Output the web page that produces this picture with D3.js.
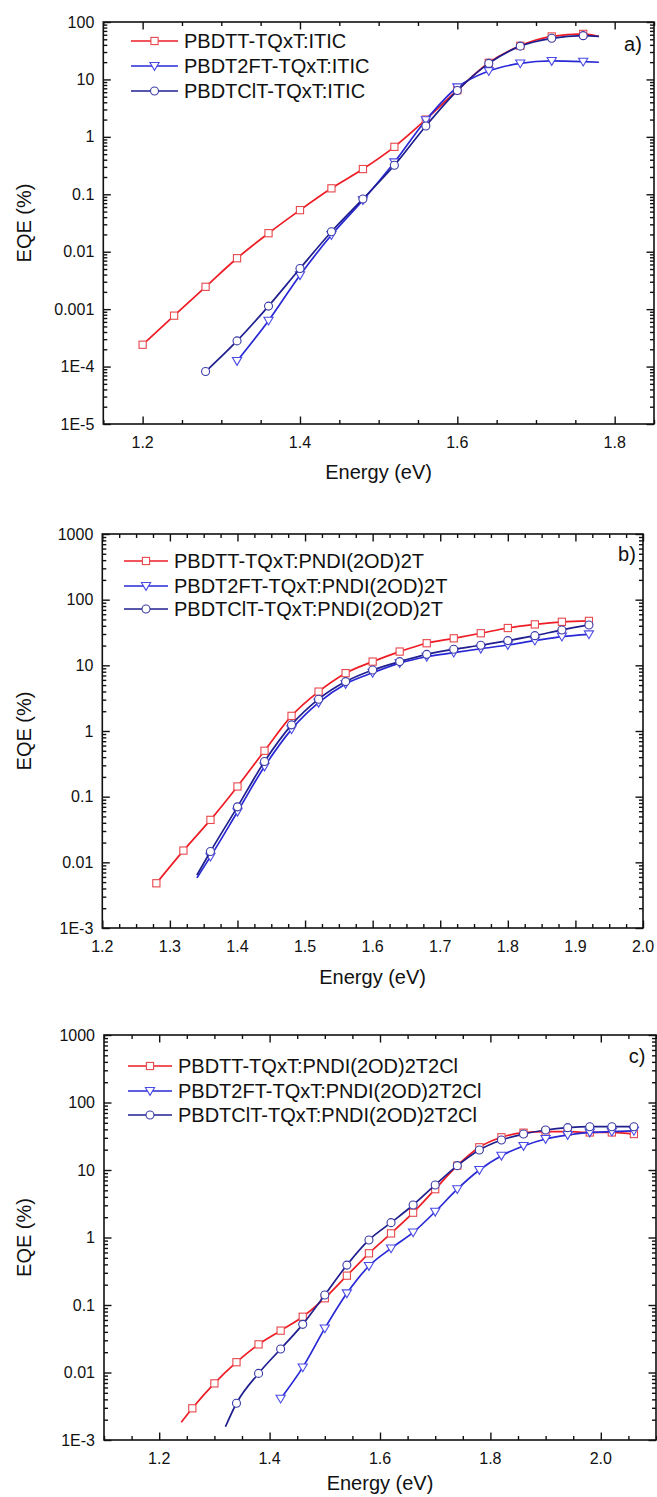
<!DOCTYPE html>
<html><head><meta charset="utf-8">
<script src="https://cdn.jsdelivr.net/npm/d3@7/dist/d3.min.js"></script>
<style>body{margin:0;background:#fff}svg{display:block}text{font-family:"Liberation Sans",Arial,sans-serif;fill:#111}</style>
</head><body><svg id="c" width="657" height="1497"></svg>
<script>
// ---------- DATA ----------
// Panel a (ITIC)
const aRedE  = [1.20,1.24,1.28,1.32,1.36,1.40,1.44,1.48,1.52,1.56,1.60,1.64,1.68,1.72,1.76];
const aRedV  = [2.4e-4,7.7e-4,2.45e-3,7.7e-3,0.021,0.053,0.127,0.275,0.67,2.0,6.5,19.5,38.5,56,62];
const aRedTail = [[1.78,56]];
const aBlueE = [1.32,1.36,1.40,1.44,1.48,1.52,1.56,1.60,1.64,1.68,1.72,1.76];
const aBlueV = [1.25e-4,6.3e-4,3.9e-3,0.0195,0.079,0.36,1.95,7.3,14,19,21,20.4];
const aBlueTail = [[1.78,19.9]];
const aNavyE = [1.28,1.32,1.36,1.40,1.44,1.48,1.52,1.56,1.60,1.64,1.68,1.72,1.76];
const aNavyV = [8.2e-5,2.8e-4,1.13e-3,5.1e-3,0.0223,0.083,0.32,1.55,6.4,19,38,52,57.8];
const aNavyTail = [[1.78,56]];
// Panel b (PNDI(2OD)2T)
const bRedE  = [1.28,1.32,1.36,1.40,1.44,1.48,1.52,1.56,1.60,1.64,1.68,1.72,1.76,1.80,1.84,1.88,1.92];
const bRedV  = [4.8e-3,0.0151,0.0443,0.143,0.5,1.7,3.98,7.6,11.4,16.2,21.7,25.8,30.8,37,42,46,47.5];
const bBlueE = [1.36,1.40,1.44,1.48,1.52,1.56,1.60,1.64,1.68,1.72,1.76,1.80,1.84,1.88,1.92];
const bBlueV = [0.0122,0.059,0.288,1.06,2.7,5.2,7.7,10.8,13.5,15.6,17.9,20.4,23.8,27.4,29.7];
const bBlueHead = [[1.34,5.8e-3]];
const bNavyE = [1.36,1.40,1.44,1.48,1.52,1.56,1.60,1.64,1.68,1.72,1.76,1.80,1.84,1.88,1.92];
const bNavyV = [0.0146,0.07,0.343,1.24,3.05,5.65,8.5,11.4,14.7,17.6,20.2,23.8,28.3,34.6,41.2];
const bNavyHead = [[1.34,6.4e-3]];
// Panel c (PNDI(2OD)2T2Cl)
const cRedE  = [1.26,1.30,1.34,1.38,1.42,1.46,1.50,1.54,1.58,1.62,1.66,1.70,1.74,1.78,1.82,1.86,1.90,1.94,1.98,2.02,2.06];
const cRedV  = [2.95e-3,6.9e-3,0.0142,0.0261,0.0417,0.067,0.126,0.272,0.583,1.15,2.33,5.2,11.6,21.7,30.5,35.7,37,37,36,36,34.1];
const cRedHead = [[1.24,1.83e-3]];
const cBlueE = [1.42,1.46,1.50,1.54,1.58,1.62,1.66,1.70,1.74,1.78,1.82,1.86,1.90,1.94,1.98,2.02,2.06];
const cBlueV = [4.1e-3,0.0119,0.045,0.149,0.378,0.69,1.19,2.41,5.2,10,16.3,22.7,28.8,33,36,37,38];
const cNavyE = [1.34,1.38,1.42,1.46,1.50,1.54,1.58,1.62,1.66,1.70,1.74,1.78,1.82,1.86,1.90,1.94,1.98,2.02,2.06];
const cNavyV = [3.5e-3,9.7e-3,0.0223,0.0517,0.141,0.39,0.92,1.66,3.03,6.0,11.6,19.8,27.8,34.1,39.1,42.4,43.8,43.8,43.8];
const cNavyHead = [[1.32,1.57e-3]];

const aNames = ["PBDTT-TQxT:ITIC","PBDT2FT-TQxT:ITIC","PBDTClT-TQxT:ITIC"];
const bNames = ["PBDTT-TQxT:PNDI(2OD)2T","PBDT2FT-TQxT:PNDI(2OD)2T","PBDTClT-TQxT:PNDI(2OD)2T"];
const cNames = ["PBDTT-TQxT:PNDI(2OD)2T2Cl","PBDT2FT-TQxT:PNDI(2OD)2T2Cl","PBDTClT-TQxT:PNDI(2OD)2T2Cl"];

const aXTicks = [1.2,1.4,1.6,1.8];
const aXLabels = ["1.2","1.4","1.6","1.8"];
const bXTicks = [1.2,1.3,1.4,1.5,1.6,1.7,1.8,1.9,2.0];
const bXLabels = ["1.2","1.3","1.4","1.5","1.6","1.7","1.8","1.9","2.0"];
const cXTicks = [1.2,1.4,1.6,1.8,2.0];
const cXLabels = ["1.2","1.4","1.6","1.8","2.0"];
const aYTicks = [100,10,1,0.1,0.01,0.001,1e-4,1e-5];
const aYLabels = ["100","10","1","0.1","0.01","0.001","1E-4","1E-5"];
const bcYTicks = [1000,100,10,1,0.1,0.01,1e-3];
const bcYLabels = ["1000","100","10","1","0.1","0.01","1E-3"];

const panelTags = ["a)","b)","c)"];
const xTitle = "Energy (eV)";
const yTitle = "EQE (%)";

// ---------- STYLE ----------
const styles = [
  {line:"#ee1c24", mark:"#e8474c", shape:"square"},
  {line:"#2828d6", mark:"#4a4ae6", shape:"tri"},
  {line:"#1f1f8f", mark:"#3b3ba8", shape:"circle"}
];
const svg = d3.select("#c");

function zip(E,V){return E.map((e,i)=>[e,V[i]]);}

const panels = [
  {L:103.3,R:654,T:22,B:424, xd:[1.15,1.85], yd:[1e-5,100], xt:aXTicks, xl:aXLabels, minorStep:0.05,
   yt:aYTicks, yl:aYLabels, names:aNames, tag:panelTags[0], tagPos:[633,44], titleOff:48,
   leg:{x0:131,x1:178,tx:184,rows:[41,66,91]},
   series:[
     {pts:zip(aRedE,aRedV), extra:aRedTail},
     {pts:zip(aBlueE,aBlueV), extra:aBlueTail},
     {pts:zip(aNavyE,aNavyV), extra:aNavyTail}]},
  {L:102.3,R:643,T:534,B:928, xd:[1.2,2.0], yd:[1e-3,1000], xt:bXTicks, xl:bXLabels, minorStep:0.025,
   yt:bcYTicks, yl:bcYLabels, names:bNames, tag:panelTags[1], tagPos:[627,554], titleOff:49,
   leg:{x0:124,x1:168,tx:174,rows:[561,586,609]},
   series:[
     {pts:zip(bRedE,bRedV), extra:[]},
     {pts:zip(bBlueE,bBlueV), extra:bBlueHead},
     {pts:zip(bNavyE,bNavyV), extra:bNavyHead}]},
  {L:104,R:656,T:1035,B:1440, xd:[1.1,2.1], yd:[1e-3,1000], xt:cXTicks, xl:cXLabels, minorStep:0.05,
   yt:bcYTicks, yl:bcYLabels, names:cNames, tag:panelTags[2], tagPos:[637,1056], titleOff:43,
   leg:{x0:128,x1:172,tx:178,rows:[1066,1091,1115]},
   series:[
     {pts:zip(cRedE,cRedV), extra:cRedHead},
     {pts:zip(cBlueE,cBlueV), extra:[]},
     {pts:zip(cNavyE,cNavyV), extra:cNavyHead}]}
];

function drawMarker(g, shape, x, y, st){
  if(shape==="square"){
    g.append("rect").attr("x",x-3.6).attr("y",y-3.6).attr("width",7.2).attr("height",7.2)
      .attr("fill","#fff").attr("stroke",st.mark).attr("stroke-width",1.1);
  } else if(shape==="tri"){
    const s=4.6;
    g.append("path").attr("d",`M${x-s},${y-s*0.75}L${x+s},${y-s*0.75}L${x},${y+s*0.95}Z`)
      .attr("fill","#fff").attr("stroke",st.mark).attr("stroke-width",1.1);
  } else {
    g.append("circle").attr("cx",x).attr("cy",y).attr("r",4)
      .attr("fill","#fff").attr("stroke",st.mark).attr("stroke-width",1.1);
  }
}

panels.forEach((p)=>{
  const x = d3.scaleLinear().domain(p.xd).range([p.L,p.R]);
  const y = d3.scaleLog().domain(p.yd).range([p.B,p.T]);
  const g = svg.append("g");

  // minor x ticks
  const minors = [];
  for(let i=0;;i++){ const v=+(Math.ceil(p.xd[0]/p.minorStep-1e-6)*p.minorStep + i*p.minorStep).toFixed(4); if(v>p.xd[1]+1e-9)break; minors.push(v);}
  const isMajor = v=>p.xt.some(t=>Math.abs(t-v)<1e-6);
  const axB = d3.axisBottom(x).tickValues(minors.filter(v=>!isMajor(v))).tickSize(-4).tickFormat("");
  const axT = d3.axisTop(x).tickValues(minors.filter(v=>!isMajor(v))).tickSize(-4).tickFormat("");
  g.append("g").attr("transform",`translate(0,${p.B})`).call(axB);
  g.append("g").attr("transform",`translate(0,${p.T})`).call(axT);
  g.append("g").attr("transform",`translate(0,${p.B})`).call(d3.axisBottom(x).tickValues(p.xt).tickSize(-7.5).tickFormat(""));
  g.append("g").attr("transform",`translate(0,${p.T})`).call(d3.axisTop(x).tickValues(p.xt).tickSize(-7.5).tickFormat(""));

  // y ticks
  const yMinor=[];
  const d0=Math.round(Math.log10(p.yd[0])), d1=Math.round(Math.log10(p.yd[1]));
  for(let d=d0; d<d1; d++) for(let k=2;k<=9;k++) yMinor.push(k*Math.pow(10,d));
  g.append("g").attr("transform",`translate(${p.L},0)`).call(d3.axisLeft(y).tickValues(yMinor).tickSize(-4).tickFormat(""));
  g.append("g").attr("transform",`translate(${p.R},0)`).call(d3.axisRight(y).tickValues(yMinor).tickSize(-4).tickFormat(""));
  g.append("g").attr("transform",`translate(${p.L},0)`).call(d3.axisLeft(y).tickValues(p.yt).tickSize(-7.5).tickFormat(""));
  g.append("g").attr("transform",`translate(${p.R},0)`).call(d3.axisRight(y).tickValues(p.yt).tickSize(-7.5).tickFormat(""));
  g.selectAll(".domain").remove();
  g.selectAll(".tick line").attr("stroke","#111").attr("stroke-width",1.4);

  // frame
  g.append("rect").attr("x",p.L).attr("y",p.T).attr("width",p.R-p.L).attr("height",p.B-p.T)
    .attr("fill","none").attr("stroke","#111").attr("stroke-width",1.6);

  // tick labels
  p.xt.forEach((t,i)=>g.append("text").attr("x",x(t)).attr("y",p.B+18).attr("dy","0.35em")
    .attr("text-anchor","middle").attr("font-size",16).text(p.xl[i]));
  p.yt.forEach((t,i)=>g.append("text").attr("x",p.L-9).attr("y",y(t)).attr("dy","0.35em")
    .attr("text-anchor","end").attr("font-size",16).text(p.yl[i]));

  // titles
  g.append("text").attr("x",(p.L+p.R)/2).attr("y",p.B+p.titleOff).attr("dy","0.35em")
    .attr("text-anchor","middle").attr("font-size",20).text(xTitle);
  g.append("text").attr("transform",`translate(24,${(p.T+p.B)/2}) rotate(-90)`).attr("dy","0.35em")
    .attr("text-anchor","middle").attr("font-size",20).text(yTitle);
  g.append("text").attr("x",p.tagPos[0]).attr("y",p.tagPos[1]).attr("dy","0.35em")
    .attr("text-anchor","middle").attr("font-size",20).text(p.tag);

  // series
  const line = d3.line().x(d=>x(d[0])).y(d=>y(d[1])).curve(d3.curveMonotoneX);
  p.series.forEach((s,si)=>{
    const st = styles[si];
    const all = s.pts.concat(s.extra).sort((a,b)=>a[0]-b[0]);
    g.append("path").attr("d",line(all)).attr("fill","none").attr("stroke",st.line).attr("stroke-width",1.7);
    s.pts.forEach(d=>drawMarker(g, st.shape, x(d[0]), y(d[1]), st));
  });

  // legend
  p.names.forEach((n,i)=>{
    const st=styles[i], ry=p.leg.rows[i];
    g.append("line").attr("x1",p.leg.x0).attr("x2",p.leg.x1).attr("y1",ry).attr("y2",ry)
      .attr("stroke",st.line).attr("stroke-width",1.7);
    drawMarker(g, st.shape, (p.leg.x0+p.leg.x1)/2, ry, st);
    g.append("text").attr("x",p.leg.tx).attr("y",ry).attr("dy","0.35em").attr("font-size",20).text(n);
  });
});
</script></body></html>
